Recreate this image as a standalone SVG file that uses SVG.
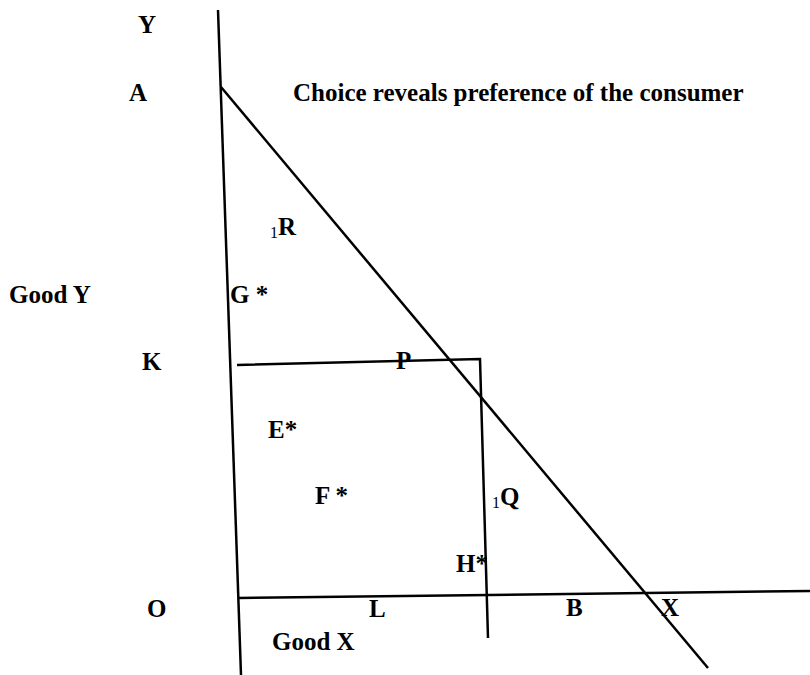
<svg xmlns="http://www.w3.org/2000/svg" width="810" height="675" viewBox="0 0 810 675">
<style>
.ln{stroke:#000;stroke-width:2.5;fill:none;stroke-linecap:butt}
text{font-family:"Liberation Serif","Times New Roman",serif;font-weight:bold;font-size:25px;fill:#000}
.sub{font-weight:normal;font-size:16px}
</style>
<rect width="810" height="675" fill="#fff"/>
<g id="connectors">
<line class="ln" x1="218" y1="10" x2="241" y2="675"/>
<line class="ln" x1="221" y1="87" x2="708" y2="668"/>
<polyline class="ln" points="237,365 480,359 488,638"/>
<line class="ln" x1="238" y1="598" x2="810" y2="591"/>
</g>
<g id="labels">
<text x="138" y="33">Y</text>
<text x="129" y="101">A</text>
<text x="293" y="101">Choice reveals preference of the consumer</text>
<text x="9" y="303">Good Y</text>
<text x="230" y="303">G *</text>
<text x="142" y="370">K</text>
<text x="396" y="369">P</text>
<text x="268" y="438">E*</text>
<text x="315" y="504">F *</text>
<text x="456" y="572">H*</text>
<text x="147" y="617">O</text>
<text x="369" y="617">L</text>
<text x="566" y="616">B</text>
<text x="661" y="616">X</text>
<text x="272" y="650">Good X</text>
<text class="sub" x="270" y="238">1</text>
<text x="278" y="235">R</text>
<text class="sub" x="492" y="508">1</text>
<text x="500" y="505">Q</text>
</g>
</svg>
